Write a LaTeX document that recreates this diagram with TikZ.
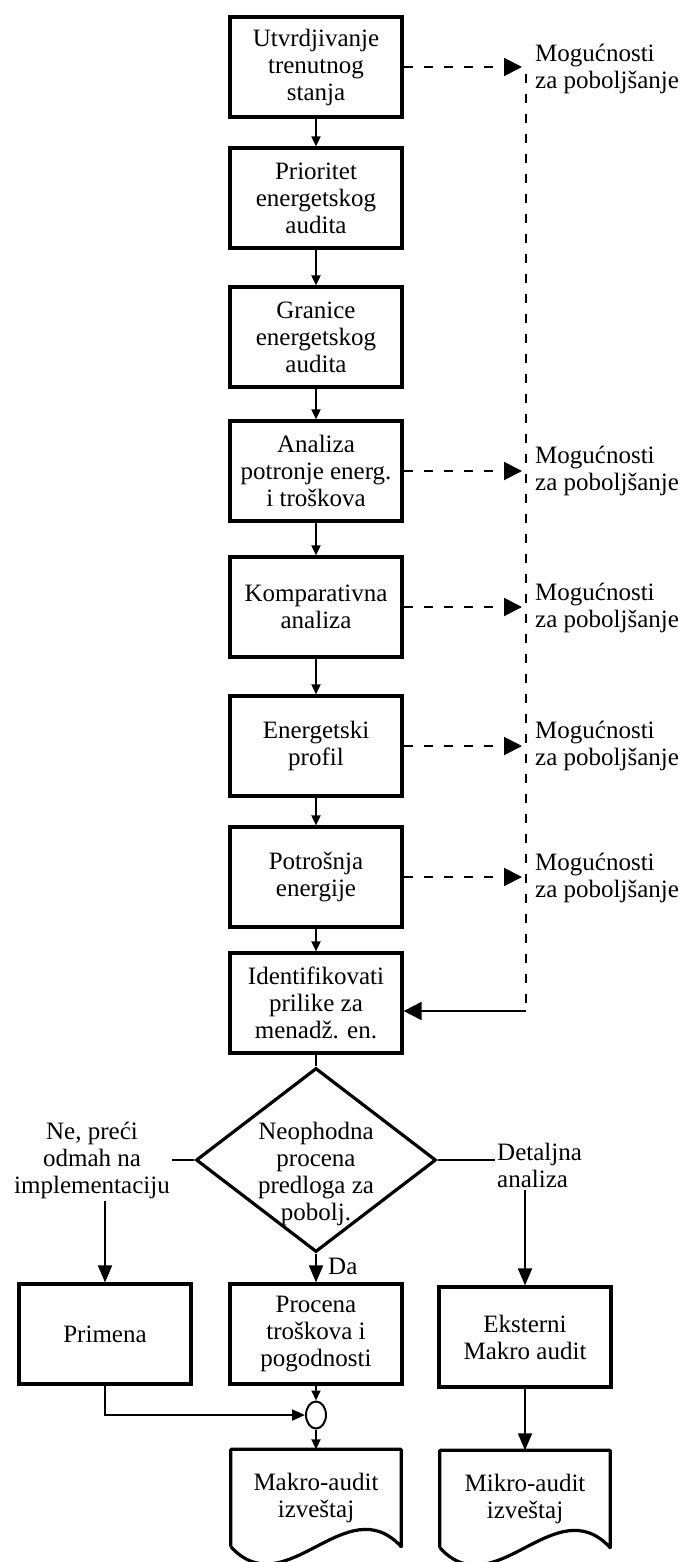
\documentclass[tikz,border=0pt]{standalone}
\usepackage{fontspec}
\setmainfont{Liberation Serif}
\usetikzlibrary{arrows.meta,shapes.geometric}

\begin{document}
\begin{tikzpicture}[x=1pt, y=-1pt,
  every node/.style={font=\fontsize{25}{27}\selectfont, align=center, inner sep=2pt},
  box/.style={draw, line width=3.2pt, minimum width=172pt, minimum height=100pt},
  doc/.style={minimum width=170pt, minimum height=97pt},
  docline/.style={line width=3.2pt, line join=round},
  flow/.style={-{Triangle[length=10pt,width=9pt]}, line width=1.8pt},
  bigflow/.style={-{Triangle[length=17pt,width=14pt]}, line width=1.8pt},
  opp/.style={-{Triangle[length=18pt,width=18pt]}, line width=2pt, dash pattern=on 9pt off 11pt},
  lbl/.style={anchor=west, align=left}]
\useasboundingbox (0,0) rectangle (683,1562);

% main column
\node[box] (B1) at (316, 67) {Utvrdjivanje\\trenutnog\\stanja};
\node[box] (B2) at (316, 198) {Prioritet\\energetskog\\audita};
\node[box] (B3) at (316, 337) {Granice\\energetskog\\audita};
\node[box] (B4) at (316, 471) {Analiza\\potronje energ.\\i troškova};
\node[box] (B5) at (316, 607) {Komparativna\\analiza};
\node[box] (B6) at (316, 746) {Energetski\\profil};
\node[box] (B7) at (316, 877) {Potrošnja\\energije};
\node[box] (B8) at (316, 1003) {Identifikovati\\prilike za\\menadž. en.};

\draw[flow] (B1) -- (B2);
\draw[flow] (B2) -- (B3);
\draw[flow] (B3) -- (B4);
\draw[flow] (B4) -- (B5);
\draw[flow] (B5) -- (B6);
\draw[flow] (B6) -- (B7);
\draw[flow] (B7) -- (B8);

% improvement opportunities on the right
\coordinate (railtop) at (526, 74);
\coordinate (railbot) at (526, 1011);
\draw[line width=2pt, dash pattern=on 9pt off 11pt] (railtop) -- (railbot);
\draw[bigflow, -{Triangle[length=18pt,width=18pt]}] (railbot) -- (railbot -| B8.east);

\draw[opp, shorten >=4pt] (B1.east) -- (B1.east -| railtop);
\draw[opp, shorten >=4pt] (B4.east) -- (B4.east -| railtop);
\draw[opp, shorten >=4pt] (B5.east) -- (B5.east -| railtop);
\draw[opp, shorten >=4pt] (B6.east) -- (B6.east -| railtop);
\draw[opp, shorten >=4pt] (B7.east) -- (B7.east -| railtop);

\node[lbl] (M1) at (533, 69) {Mogućnosti\\za poboljšanje};
\node[lbl] (M4) at (533, 471) {Mogućnosti\\za poboljšanje};
\node[lbl] (M5) at (533, 608) {Mogućnosti\\za poboljšanje};
\node[lbl] (M6) at (533, 746) {Mogućnosti\\za poboljšanje};
\node[lbl] (M7) at (533, 878) {Mogućnosti\\za poboljšanje};

% decision
\node[diamond, draw, line width=3.2pt, inner sep=0pt, minimum width=240pt, minimum height=184pt] (D) at (316, 1160) {};
\node (Dtxt) at (316, 1174) {Neophodna\\procena\\predloga za\\pobolj.};
\draw[line width=1.8pt] (B8) -- (D.north);

\node (Ne) at (92, 1160) {Ne, preći\\odmah na\\implementaciju};
\node[lbl] (Det) at (495, 1165) {Detaljna\\analiza};
\node[anchor=west] (Da) at (326, 1266) {Da};

\draw[line width=1.8pt] (D.west) -- (D.west -| Ne.east);
\draw[line width=1.8pt] (D.east) -- (Det.west |- D.east);

% lower row
\node[box] (Prim) at (105, 1334) {Primena};
\node[box] (Proc) at (316, 1334) {Procena\\troškova i\\pogodnosti};
\node[box] (Eks) at (525, 1337) {Eksterni\\Makro audit};

\draw[bigflow] (Ne.south -| Prim.north) -- (Prim.north);
\draw[bigflow] (D.south) -- (Proc.north);
\draw[bigflow] (Det.south -| Eks.north) -- (Eks.north);

% join and reports
\node[ellipse, draw, line width=2pt, inner sep=0pt, minimum width=20pt, minimum height=27pt] (Circ) at (316, 1415) {};
\node[doc] (Mak) at (316, 1498) {Makro-audit\\izveštaj};
\node[doc] (Mik) at (525, 1499) {Mikro-audit\\izveštaj};
\draw[docline] (Mak.south west) -- (Mak.north west) -- (Mak.north east) -- (Mak.south east)
  .. controls +(-55,-60) and +(55,60) .. (Mak.south west);
\draw[docline] (Mik.south west) -- (Mik.north west) -- (Mik.north east) -- (Mik.south east)
  .. controls +(-55,-60) and +(55,60) .. (Mik.south west);

\draw[flow] (Proc) -- (Circ);
\draw[flow, -{Triangle[length=13pt,width=11pt]}] (Prim.south) |- (Circ.west);
\draw[flow] (Circ) -- (Mak);
\draw[bigflow] (Eks) -- (Mik);
\end{tikzpicture}
\end{document}
